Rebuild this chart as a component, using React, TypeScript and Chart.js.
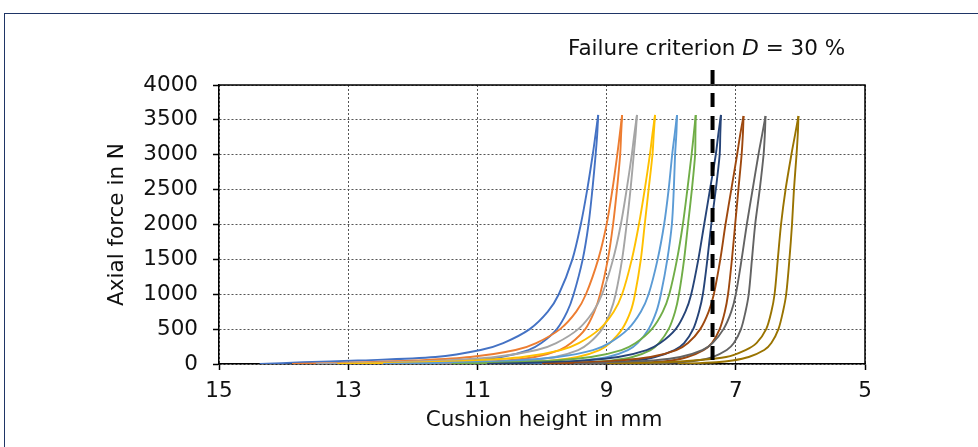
import React, { useEffect, useRef } from "react";
import { Chart, registerables } from "chart.js";

Chart.register(...registerables);

// ---- data ----
const SERIES_COLORS = [
  "#4472C4", "#ED7D31", "#A5A5A5", "#FFC000", "#5B9BD5",
  "#70AD47", "#264478", "#9E480E", "#636363", "#997300",
];

// loading branch: force levels (N) and cushion heights (mm) per series
const LOAD_FORCES = [0, 25, 50, 100, 200, 300, 500, 750, 1000, 1500, 2000, 2500, 3000, 3300];
const LOAD_HEIGHTS = [
  [14.37, 13.70, 12.85, 11.65, 10.95, 10.60, 10.19, 9.91, 9.74, 9.53, 9.40, 9.30, 9.215, 9.17],
  [13.87, 12.71, 11.96, 11.11, 10.41, 10.09, 9.72, 9.47, 9.32, 9.13, 9.00, 8.91, 8.835, 8.795],
  [13.50, 12.28, 11.53, 10.73, 10.08, 9.78, 9.44, 9.21, 9.07, 8.90, 8.78, 8.69, 8.61, 8.57],
  [13.17, 11.80, 11.05, 10.30, 9.71, 9.43, 9.11, 8.89, 8.76, 8.61, 8.50, 8.41, 8.33, 8.29],
  [12.46, 11.11, 10.41, 9.76, 9.21, 8.96, 8.67, 8.47, 8.35, 8.21, 8.11, 8.04, 7.985, 7.945],
  [11.40, 10.42, 9.82, 9.24, 8.77, 8.55, 8.30, 8.13, 8.03, 7.91, 7.82, 7.75, 7.685, 7.65],
  [10.85, 9.90, 9.35, 8.82, 8.38, 8.17, 7.93, 7.78, 7.69, 7.58, 7.49, 7.40, 7.31, 7.27],
  [10.00, 9.30, 8.80, 8.32, 7.92, 7.74, 7.55, 7.42, 7.34, 7.24, 7.16, 7.07, 6.98, 6.93],
  [9.50, 8.75, 8.30, 7.86, 7.52, 7.36, 7.19, 7.07, 7.00, 6.91, 6.83, 6.74, 6.65, 6.59],
  [9.00, 8.10, 7.65, 7.15, 6.85, 6.68, 6.53, 6.45, 6.40, 6.35, 6.30, 6.23, 6.14, 6.08],
];

// turning point of each loop
const PEAK_HEIGHTS = [9.13, 8.76, 8.53, 8.25, 7.91, 7.62, 7.23, 6.88, 6.54, 6.03];
const PEAK_FORCES = [3570, 3570, 3570, 3570, 3570, 3570, 3570, 3555, 3555, 3555];

// unloading branch
const UNLOAD_FORCES = [3300, 3000, 2500, 2000, 1500, 1000, 750, 500, 300, 200, 100, 50, 25, 0];
const UNLOAD_HEIGHTS = [
  [9.145, 9.17, 9.22, 9.28, 9.37, 9.51, 9.61, 9.77, 10.01, 10.21, 10.63, 11.13, 11.63, 12.30],
  [8.775, 8.79, 8.84, 8.90, 8.98, 9.10, 9.19, 9.33, 9.55, 9.73, 10.11, 10.56, 11.01, 11.66],
  [8.55, 8.58, 8.63, 8.69, 8.76, 8.86, 8.94, 9.07, 9.27, 9.44, 9.80, 10.23, 10.63, 11.33],
  [8.27, 8.29, 8.35, 8.41, 8.47, 8.56, 8.63, 8.76, 8.95, 9.11, 9.45, 9.85, 10.25, 10.95],
  [7.92, 7.94, 7.96, 7.99, 8.06, 8.16, 8.23, 8.35, 8.52, 8.67, 8.98, 9.36, 9.71, 10.41],
  [7.625, 7.63, 7.68, 7.74, 7.80, 7.88, 7.94, 8.04, 8.19, 8.32, 8.60, 8.92, 9.27, 9.82],
  [7.24, 7.25, 7.31, 7.38, 7.44, 7.51, 7.57, 7.66, 7.80, 7.95, 8.25, 8.55, 8.90, 9.60],
  [6.89, 6.91, 6.96, 7.01, 7.06, 7.12, 7.17, 7.25, 7.37, 7.50, 7.75, 8.00, 8.30, 8.90],
  [6.55, 6.57, 6.63, 6.70, 6.75, 6.80, 6.85, 6.92, 7.03, 7.14, 7.36, 7.60, 7.85, 8.40],
  [6.04, 6.06, 6.10, 6.13, 6.17, 6.22, 6.27, 6.34, 6.45, 6.56, 6.80, 7.05, 7.30, 7.90],
];

// failure criterion D = 30 %
const CRITERION_HEIGHT = 7.36;
const CRITERION_FORCES = [57, 4244];

const X_TICKS = [15, 13, 11, 9, 7, 5];
const Y_TICKS = [0, 500, 1000, 1500, 2000, 2500, 3000, 3500, 4000];

const X_TITLE = "Cushion height in mm";
const Y_TITLE = "Axial force in N";
const NOTE_PARTS = ["Failure criterion ", "D", " = 30 %"];

const FONT = "'DejaVu Sans', Verdana, sans-serif";
const FONT_SIZE = 21.5;

const textPlugin = {
  id: "texts",
  afterDraw(chart: any) {
    const { ctx, chartArea } = chart;
    ctx.save();
    // plot frame top & right
    ctx.strokeStyle = "#000";
    ctx.lineWidth = 1.5;
    ctx.beginPath();
    ctx.moveTo(chartArea.left, chartArea.top);
    ctx.lineTo(chartArea.right, chartArea.top);
    ctx.lineTo(chartArea.right, chartArea.bottom);
    ctx.stroke();

    ctx.fillStyle = "#111";
    ctx.font = `${FONT_SIZE}px ${FONT}`;
    ctx.textAlign = "center";
    ctx.textBaseline = "middle";
    ctx.fillText(X_TITLE, (chartArea.left + chartArea.right) / 2 + 2, 420);

    ctx.save();
    ctx.translate(117, (chartArea.top + chartArea.bottom) / 2);
    ctx.rotate(-Math.PI / 2);
    ctx.fillText(Y_TITLE, 0, 0);
    ctx.restore();

    // annotation
    ctx.textAlign = "left";
    ctx.textBaseline = "alphabetic";
    let x = 568;
    const base = 55;
    NOTE_PARTS.forEach((p, i) => {
      ctx.font = i === 1 ? `italic ${FONT_SIZE}px ${FONT}` : `${FONT_SIZE}px ${FONT}`;
      ctx.fillText(p, x, base);
      x += ctx.measureText(p).width;
    });
    ctx.restore();
  },
};

export default function App() {
  const ref = useRef<HTMLCanvasElement>(null);

  useEffect(() => {
    if (!ref.current) return;
    const datasets: any[] = [];
    SERIES_COLORS.forEach((color, i) => {
      const peak = { x: PEAK_HEIGHTS[i], y: PEAK_FORCES[i] };
      const load = LOAD_FORCES.map((f, k) => ({ x: LOAD_HEIGHTS[i][k], y: f }));
      load.push(peak);
      const unload = [peak].concat(
        UNLOAD_FORCES.map((f, k) => ({ x: UNLOAD_HEIGHTS[i][k], y: f }))
      );
      [load, unload].forEach((data) => {
        datasets.push({
          data,
          borderColor: color,
          borderWidth: 1.9,
          pointRadius: 0,
          tension: 0.3,
          fill: false,
          order: 20 - i,
        });
      });
    });
    datasets.push({
      data: CRITERION_FORCES.map((f) => ({ x: CRITERION_HEIGHT, y: f })),
      borderColor: "#000",
      borderWidth: 4,
      borderDash: [14, 9],
      pointRadius: 0,
      tension: 0,
      clip: false,
      order: -1,
    });

    const tickFont = { family: FONT, size: FONT_SIZE };
    const chart = new Chart(ref.current, {
      type: "line",
      data: { datasets },
      plugins: [textPlugin],
      options: {
        animation: false,
        responsive: false,
        maintainAspectRatio: false,
        layout: { padding: { left: 0, right: 113, top: 85, bottom: 0 } },
        plugins: { legend: { display: false }, tooltip: { enabled: false } },
        scales: {
          x: {
            type: "linear",
            reverse: true,
            min: 5,
            max: 15,
            afterBuildTicks: (s: any) => {
              s.ticks = X_TICKS.map((v) => ({ value: v }));
            },
            afterFit: (s: any) => {
              s.height = 83;
            },
            grid: {
              color: "#555",
              lineWidth: 1,
              tickLength: 6,
              tickColor: "#000",
              tickWidth: 1.5,
            },
            border: { color: "#000", width: 1.5, dash: [2, 2] },
            ticks: {
              font: tickFont,
              color: "#111",
              padding: 9,
              maxRotation: 0,
              autoSkip: false,
              callback: (v: any) => String(v),
            },
          },
          y: {
            type: "linear",
            min: 0,
            max: 4000,
            afterBuildTicks: (s: any) => {
              s.ticks = Y_TICKS.map((v) => ({ value: v }));
            },
            afterFit: (s: any) => {
              s.width = 219;
            },
            grid: {
              color: "#555",
              lineWidth: 1,
              tickLength: 6,
              tickColor: "#000",
              tickWidth: 1.5,
            },
            border: { color: "#000", width: 1.5, dash: [2, 2] },
            ticks: {
              font: tickFont,
              color: "#111",
              padding: 15,
              autoSkip: false,
              callback: (v: any) => String(v),
            },
          },
        },
      } as any,
    });
    return () => chart.destroy();
  }, []);

  return (
    <div
      style={{
        position: "fixed",
        left: 0,
        top: 0,
        width: 978,
        height: 447,
        overflow: "hidden",
        background: "#fff",
      }}
    >
      <div
        style={{
          position: "absolute",
          left: 4,
          top: 13,
          width: 1200,
          height: 800,
          borderLeft: "1.5px solid #1F3566",
          borderTop: "1.5px solid #1F3566",
        }}
      />
      <canvas
        ref={ref}
        width={978}
        height={447}
        style={{ position: "absolute", left: 0, top: 0, width: 978, height: 447 }}
      />
    </div>
  );
}
